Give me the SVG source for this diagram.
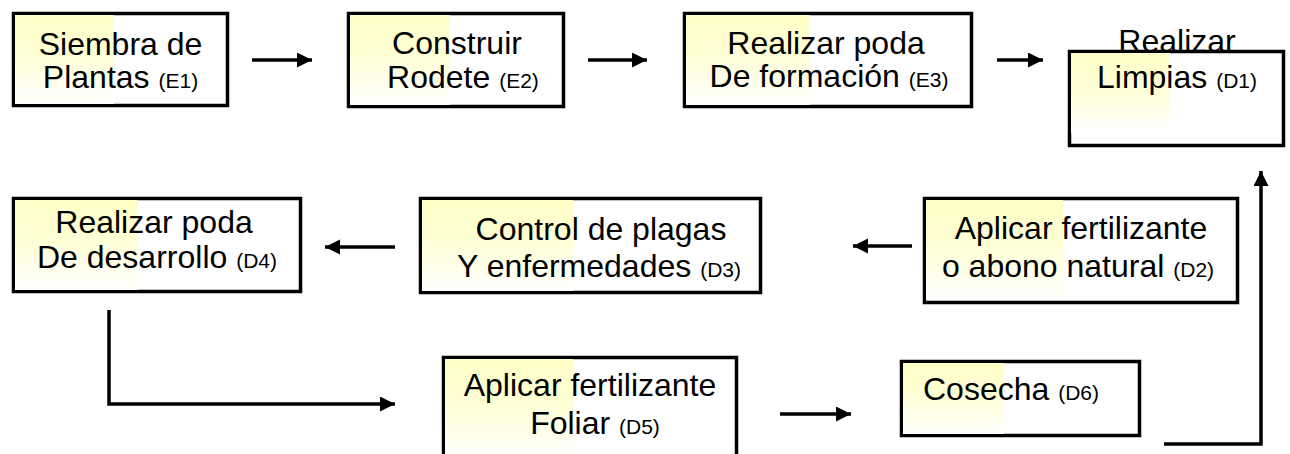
<svg xmlns="http://www.w3.org/2000/svg" width="1290" height="454" viewBox="0 0 1290 454">
<style>
.box{fill:#fff;stroke:#000;stroke-width:3.5}
.hl{fill:url(#yg)}
.t{font-family:"Liberation Sans",Arial,sans-serif;font-size:32px;fill:#000;text-anchor:middle}
.s{font-size:21px}
.c{fill:none;stroke:#000;stroke-width:3.5}
</style>
<defs>
<linearGradient id="yg" x1="0" y1="0" x2="0" y2="1">
<stop offset="0" stop-color="#FFFFC8"/>
<stop offset="0.45" stop-color="#FFFFD6"/>
<stop offset="1" stop-color="#FFFFFF"/>
</linearGradient>
<marker id="ah" markerUnits="userSpaceOnUse" markerWidth="16" markerHeight="16" refX="15" refY="7.5" orient="auto">
<path d="M0,0 L15,7.5 L0,15 Z" fill="#000"/>
</marker>
</defs>
<g id="connectors">
<line class="c" x1="252" y1="60" x2="312" y2="60" marker-end="url(#ah)"/>
<line class="c" x1="588" y1="60" x2="647" y2="60" marker-end="url(#ah)"/>
<line class="c" x1="997" y1="60" x2="1043" y2="60" marker-end="url(#ah)"/>
<line class="c" x1="912" y1="246" x2="853" y2="246" marker-end="url(#ah)"/>
<line class="c" x1="395" y1="247" x2="325" y2="247" marker-end="url(#ah)"/>
<polyline class="c" points="109,310 109,404 395,404" marker-end="url(#ah)"/>
<line class="c" x1="780" y1="414" x2="851" y2="414" marker-end="url(#ah)"/>
<polyline class="c" points="1164,444 1261,444 1261,171" marker-end="url(#ah)"/>
</g>
<g id="E1">
<rect class="box" x="13.5" y="13.5" width="214" height="92"/>
<rect class="hl" x="15" y="15" width="99" height="89"/>
<text class="t" x="120.5" y="55">Siembra de</text>
<text class="t" x="120.5" y="88">Plantas <tspan class="s">(E1)</tspan></text>
</g>
<g id="E2">
<rect class="box" x="348.5" y="13.5" width="215" height="93"/>
<rect class="hl" x="350" y="15" width="100" height="90"/>
<text class="t" x="457" y="54">Construir</text>
<text class="t" x="463" y="88">Rodete <tspan class="s">(E2)</tspan></text>
</g>
<g id="E3">
<rect class="box" x="684.5" y="13.5" width="287" height="93"/>
<rect class="hl" x="686" y="15" width="124" height="90"/>
<text class="t" x="826" y="54">Realizar poda</text>
<text class="t" x="829" y="87">De formación <tspan class="s">(E3)</tspan></text>
</g>
<g id="D1">
<rect class="box" x="1069.5" y="51.5" width="214" height="94"/>
<rect class="hl" x="1071" y="53" width="99" height="80"/>
<text class="t" x="1177" y="52">Realizar</text>
<text class="t" x="1177" y="88">Limpias <tspan class="s">(D1)</tspan></text>
</g>
<g id="D2">
<rect class="box" x="924.5" y="198.5" width="313" height="104"/>
<rect class="hl" x="926" y="200" width="137" height="100"/>
<text class="t" x="1081" y="239">Aplicar fertilizante</text>
<text class="t" x="1078" y="277">o abono natural <tspan class="s">(D2)</tspan></text>
</g>
<g id="D3">
<rect class="box" x="420.5" y="198.5" width="340" height="94"/>
<rect class="hl" x="422" y="200" width="151" height="91"/>
<text class="t" x="601" y="240">Control de plagas</text>
<text class="t" x="599" y="277">Y enfermedades <tspan class="s">(D3)</tspan></text>
</g>
<g id="D4">
<rect class="box" x="13.5" y="198.5" width="287" height="93"/>
<rect class="hl" x="15" y="200" width="123" height="90"/>
<text class="t" x="154" y="233">Realizar poda</text>
<text class="t" x="157" y="268">De desarrollo <tspan class="s">(D4)</tspan></text>
</g>
<g id="D5">
<rect class="box" x="443.5" y="357.5" width="293" height="110"/>
<rect class="hl" x="445" y="359" width="128" height="100"/>
<text class="t" x="590" y="396">Aplicar fertilizante</text>
<text class="t" x="595" y="434">Foliar <tspan class="s">(D5)</tspan></text>
</g>
<g id="D6">
<rect class="box" x="901.5" y="361.5" width="238" height="74"/>
<rect class="hl" x="903" y="363" width="101" height="71"/>
<text class="t" x="923" y="400" style="text-anchor:start">Cosecha <tspan class="s">(D6)</tspan></text>
</g>
</svg>
